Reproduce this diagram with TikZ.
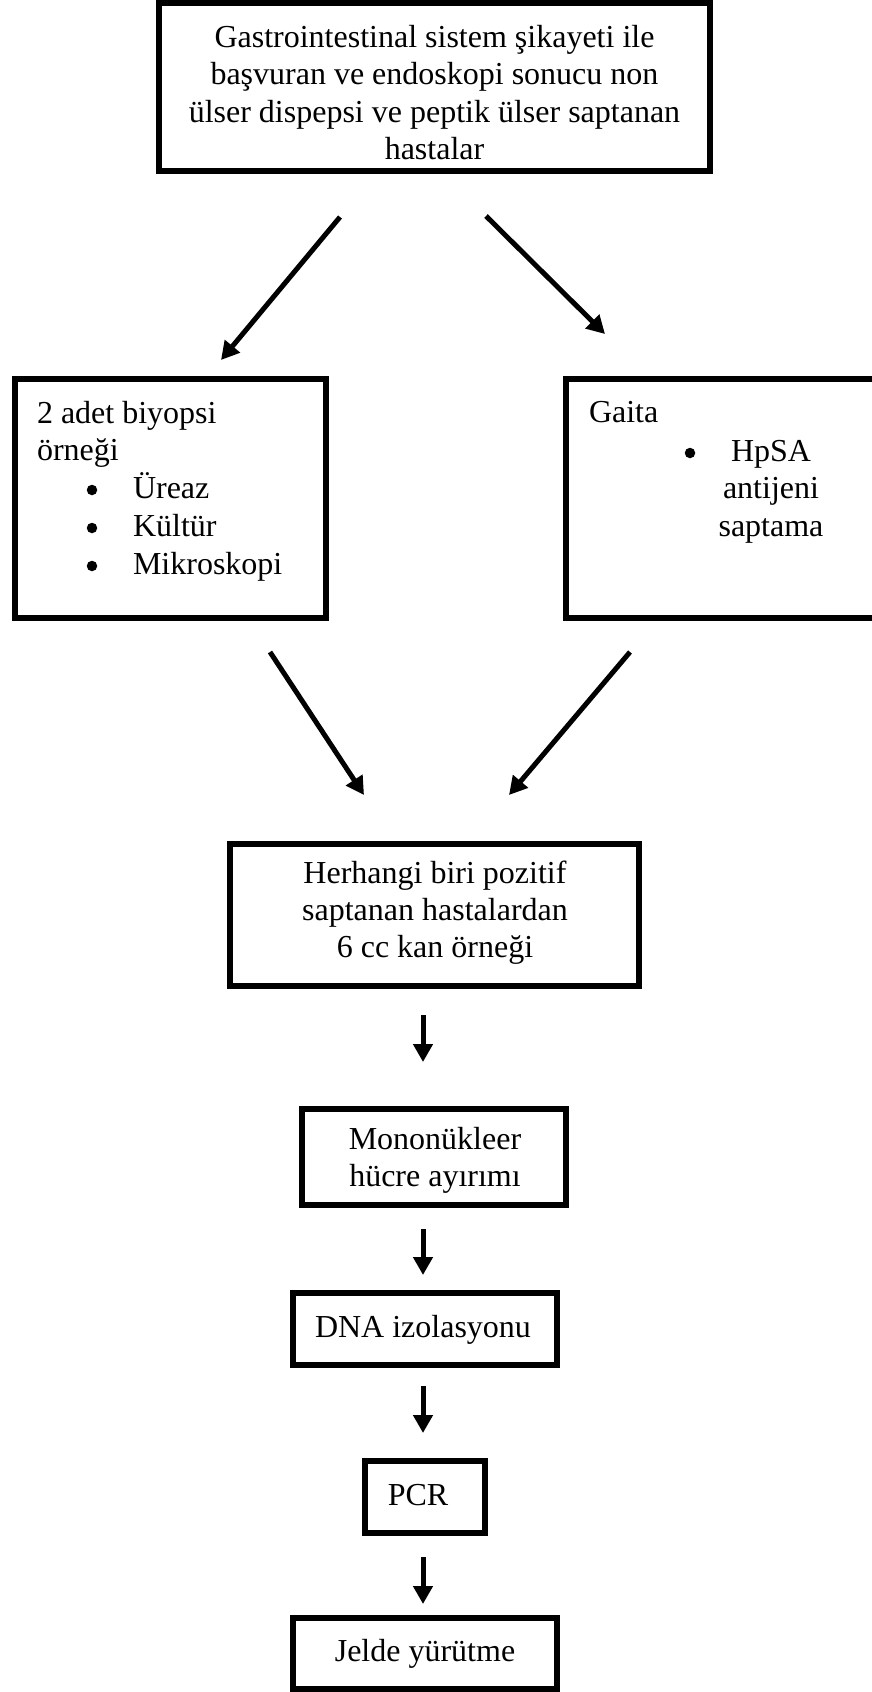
\documentclass[tikz,border=0pt]{standalone}
\usepackage{fontspec}
\setmainfont{Liberation Serif}
\usetikzlibrary{arrows.meta}
\begin{document}
\begin{tikzpicture}[x=1pt,y=-1pt,
  boxstyle/.style={draw=black,line width=6pt,rectangle,inner sep=0pt,outer sep=0pt},
  txt/.style={inner sep=0pt,outer sep=0pt,font=\fontsize{32}{37.2}\selectfont},
  bul/.style={circle,fill=black,inner sep=0pt,outer sep=0pt,minimum size=10.5pt},
  arr/.style={line width=5pt,-{Triangle[length=18pt,width=19pt]}}]
\useasboundingbox (0,0) rectangle (872,1692);
% boxes
\node[boxstyle,minimum width=551pt,minimum height=168pt] (top) at (434.5,87) {};
\node[boxstyle,minimum width=311.5pt,minimum height=239pt] (left) at (170.25,498.5) {};
\node[boxstyle,minimum width=334pt,minimum height=239pt] (right) at (733,498.5) {};
\node[boxstyle,minimum width=409pt,minimum height=142pt] (pos) at (434.5,915) {};
\node[boxstyle,minimum width=264pt,minimum height=96pt] (mono) at (434,1157) {};
\node[boxstyle,minimum width=264pt,minimum height=72pt] (dna) at (425,1329) {};
\node[boxstyle,minimum width=120pt,minimum height=72pt] (pcr) at (425,1497) {};
\node[boxstyle,minimum width=264pt,minimum height=71pt] (jel) at (425,1653.5) {};
% texts
\node[txt,align=center] (toptxt) at (434.5,92.5) {Gastrointestinal sistem şikayeti ile\\başvuran ve endoskopi sonucu non\\ülser dispepsi ve peptik ülser saptanan\\hastalar};
\node[txt,anchor=base west] (l1) at (37,423) {2 adet biyopsi};
\node[txt,anchor=base west] (l2) at (37,460) {örneği};
\node[bul] (b1) at (92,490) {};
\node[bul] (b2) at (92,528) {};
\node[bul] (b3) at (92,566) {};
\node[txt,anchor=base west] (l3) at (133,498) {Üreaz};
\node[txt,anchor=base west] (l4) at (133,536) {Kültür};
\node[txt,anchor=base west] (l5) at (133,574) {Mikroskopi};
\node[txt,anchor=base west] (r1) at (589,422) {Gaita};
\node[bul] (rb) at (690,453) {};
\node[txt,anchor=base] (r2) at (771,461) {HpSA};
\node[txt,anchor=base] (r3) at (771,498) {antijeni};
\node[txt,anchor=base] (r4) at (771,536) {saptama};
\node[txt,align=center] (postxt) at (435,912.5) {Herhangi biri pozitif\\saptanan hastalardan\\6 cc kan örneği};
\node[txt,align=center] (monotxt) at (435,1160) {Mononükleer\\hücre ayırımı};
\node[txt] (dnatxt) at (423,1330) {DNA izolasyonu};
\node[txt] (pcrtxt) at (418,1495) {PCR};
\node[txt] (jeltxt) at (425,1654) {Jelde yürütme};
% arrow end points
\coordinate (a1s) at (340,217); \coordinate (a1e) at (221,360);
\coordinate (a2s) at (486,216); \coordinate (a2e) at (605,334);
\coordinate (a3s) at (270,652); \coordinate (a3e) at (364,795);
\coordinate (a4s) at (630,652); \coordinate (a4e) at (509,795);
\coordinate (d1s) at (423,1015); \coordinate (d1e) at (423,1062);
\coordinate (d2s) at (423,1229); \coordinate (d2e) at (423,1275);
\coordinate (d3s) at (423,1386); \coordinate (d3e) at (423,1433);
\coordinate (d4s) at (423,1557); \coordinate (d4e) at (423,1604);
\draw[arr] (a1s) -- (a1e);
\draw[arr] (a2s) -- (a2e);
\draw[arr] (a3s) -- (a3e);
\draw[arr] (a4s) -- (a4e);
\draw[arr] (d1s) -- (d1e);
\draw[arr] (d2s) -- (d2e);
\draw[arr] (d3s) -- (d3e);
\draw[arr] (d4s) -- (d4e);
\end{tikzpicture}
\end{document}
